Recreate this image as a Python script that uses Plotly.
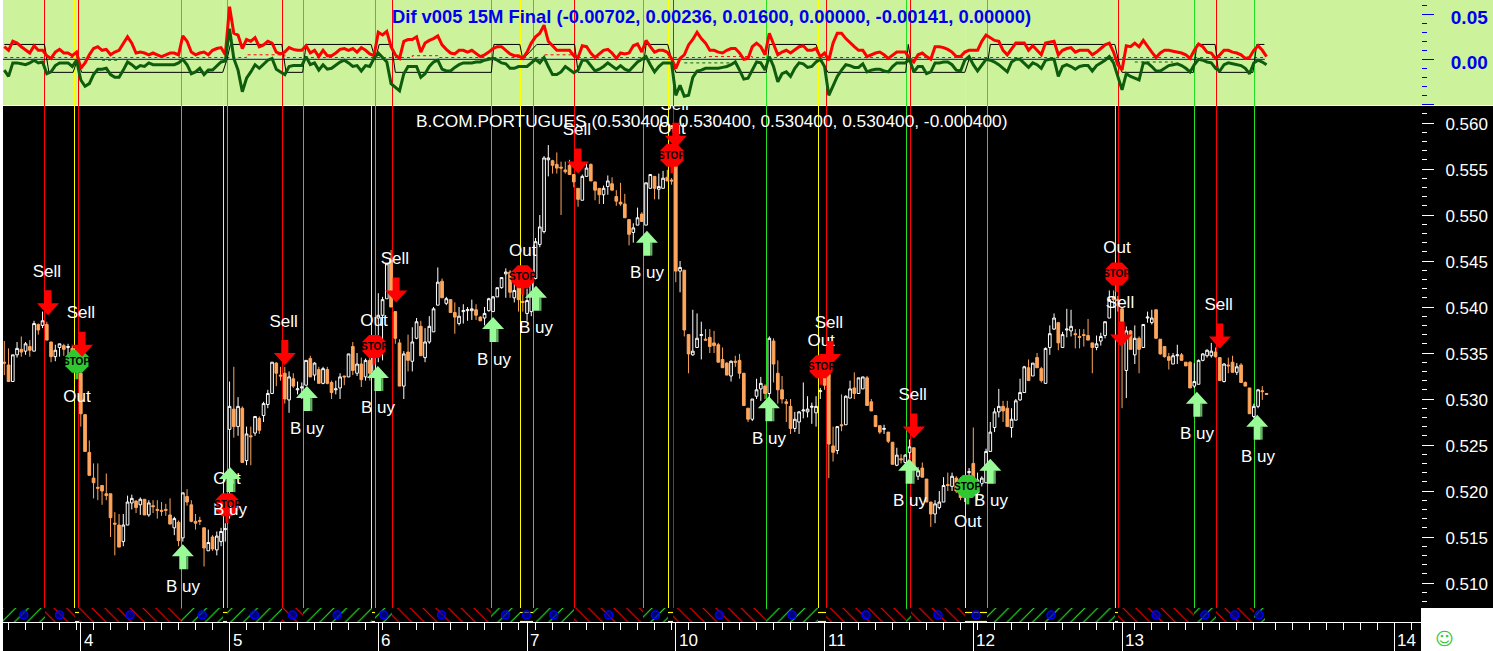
import plotly.graph_objects as go

# ---------- price bars (15 minute candles) ----------
opens = [.5340,.5337,.5319,.5348,.5354,.5352,.5357,.5352,.5381,.5380,.5381,.5362,.5346,.5356,.5358,.5356,.5355,.5350,.5328,.5283,
.5242,.5214,.5204,.5206,.5197,.5197,.5165,.5163,.5145,.5163,.5187,.5189,.5185,.5191,.5174,.5184,.5180,.5179,.5180,.5174,
.5160,.5166,.5149,.5194,.5185,.5167,.5168,.5160,.5135,.5150,.5136,.5145,.5158,.5267,.5289,.5270,.5290,.5233,.5260,.5263,
.5279,.5282,.5294,.5306,.5339,.5326,.5328,.5299,.5322,.5310,.5312,.5315,.5344,.5326,.5332,.5317,.5332,.5318,.5310,.5312,
.5325,.5324,.5357,.5328,.5338,.5324,.5342,.5330,.5388,.5391,.5409,.5451,.5395,.5361,.5314,.5351,.5341,.5366,.5379,.5345,
.5362,.5373,.5402,.5428,.5404,.5408,.5394,.5382,.5395,.5396,.5396,.5397,.5389,.5388,.5396,.5395,.5411,.5421,.5436,.5438,
.5410,.5422,.5406,.5393,.5395,.5431,.5468,.5482,.5560,.5559,.5555,.5552,.5549,.5554,.5544,.5529,.5516,.5542,.5555,.5536,
.5529,.5522,.5531,.5534,.5520,.5514,.5512,.5495,.5481,.5489,.5501,.5489,.5529,.5542,.5528,.5529,.5541,.5538,.5554,.5439,
.5440,.5370,.5348,.5356,.5369,.5365,.5367,.5361,.5359,.5343,.5339,.5325,.5341,.5342,.5328,.5290,.5278,.5303,.5311,.5314,
.5306,.5363,.5328,.5310,.5297,.5292,.5268,.5275,.5287,.5286,.5291,.5285,.5308,.5330,.5327,.5249,.5244,.5272,.5272,.5301,
.5312,.5306,.5311,.5323,.5297,.5282,.5271,.5267,.5264,.5253,.5228,.5235,.5231,.5242,.5247,.5216,.5225,.5213,.5188,.5175,
.5182,.5188,.5207,.5205,.5214,.5210,.5195,.5220,.5230,.5198,.5208,.5209,.5243,.5269,.5286,.5292,.5290,.5269,.5277,.5299,
.5307,.5334,.5325,.5345,.5333,.5317,.5356,.5376,.5383,.5356,.5375,.5374,.5371,.5368,.5370,.5369,.5361,.5356,.5363,.5369,
.5388,.5411,.5408,.5398,.5331,.5374,.5348,.5366,.5356,.5388,.5383,.5397,.5365,.5357,.5346,.5338,.5347,.5348,.5340,.5340,
.5314,.5316,.5342,.5347,.5347,.5351,.5345,.5319,.5337,.5340,.5329,.5337,.5318,.5312,.5281,.5292,.5309,.5306]
highs = [.5363,.5355,.5348,.5362,.5368,.5362,.5364,.5385,.5382,.5395,.5384,.5362,.5359,.5360,.5360,.5360,.5358,.5352,.5330,.5283,
.5255,.5230,.5230,.5206,.5219,.5197,.5177,.5175,.5175,.5195,.5196,.5190,.5193,.5191,.5190,.5190,.5190,.5188,.5186,.5192,
.5172,.5168,.5198,.5202,.5190,.5175,.5172,.5160,.5158,.5152,.5156,.5160,.5165,.5319,.5335,.5302,.5292,.5270,.5270,.5281,
.5281,.5297,.5310,.5340,.5340,.5335,.5335,.5330,.5328,.5319,.5318,.5342,.5347,.5340,.5335,.5335,.5335,.5320,.5320,.5328,
.5325,.5349,.5362,.5350,.5345,.5344,.5350,.5360,.5415,.5411,.5447,.5462,.5395,.5365,.5352,.5370,.5378,.5388,.5385,.5377,
.5390,.5400,.5443,.5431,.5411,.5408,.5405,.5400,.5403,.5400,.5408,.5403,.5390,.5400,.5410,.5412,.5421,.5432,.5442,.5440,
.5425,.5425,.5415,.5420,.5440,.5475,.5500,.5564,.5576,.5560,.5568,.5558,.5558,.5560,.5544,.5529,.5544,.5556,.5556,.5536,
.5529,.5532,.5543,.5541,.5527,.5535,.5523,.5495,.5491,.5508,.5503,.5535,.5544,.5542,.5545,.5548,.5549,.5540,.5580,.5450,
.5440,.5370,.5397,.5393,.5384,.5376,.5376,.5374,.5361,.5356,.5340,.5342,.5347,.5349,.5328,.5290,.5300,.5322,.5324,.5316,
.5368,.5366,.5342,.5325,.5300,.5300,.5286,.5287,.5318,.5303,.5296,.5303,.5312,.5335,.5330,.5270,.5270,.5305,.5304,.5320,
.5329,.5323,.5324,.5325,.5300,.5282,.5271,.5272,.5264,.5253,.5247,.5240,.5240,.5256,.5247,.5226,.5231,.5213,.5188,.5190,
.5200,.5215,.5220,.5220,.5216,.5215,.5212,.5225,.5269,.5220,.5216,.5246,.5275,.5290,.5311,.5298,.5298,.5290,.5300,.5322,
.5336,.5343,.5339,.5350,.5335,.5356,.5380,.5393,.5383,.5373,.5398,.5397,.5376,.5376,.5376,.5387,.5361,.5369,.5372,.5384,
.5418,.5418,.5412,.5400,.5379,.5375,.5380,.5368,.5381,.5395,.5397,.5397,.5365,.5357,.5350,.5350,.5359,.5350,.5340,.5341,
.5339,.5343,.5350,.5354,.5361,.5356,.5345,.5339,.5345,.5347,.5339,.5339,.5319,.5312,.5295,.5311,.5314,.5306]
lows = [.5326,.5319,.5319,.5345,.5346,.5348,.5346,.5352,.5370,.5377,.5364,.5340,.5341,.5346,.5347,.5347,.5345,.5328,.5270,.5243,
.5217,.5192,.5190,.5185,.5190,.5150,.5130,.5139,.5140,.5163,.5180,.5176,.5174,.5174,.5172,.5176,.5170,.5173,.5173,.5164,
.5152,.5140,.5145,.5184,.5166,.5158,.5163,.5118,.5135,.5135,.5130,.5140,.5145,.5170,.5258,.5260,.5231,.5228,.5228,.5260,
.5262,.5275,.5290,.5306,.5314,.5320,.5295,.5285,.5312,.5305,.5300,.5315,.5324,.5320,.5317,.5316,.5316,.5300,.5305,.5300,
.5315,.5324,.5326,.5325,.5313,.5320,.5320,.5325,.5340,.5342,.5409,.5400,.5360,.5314,.5300,.5330,.5330,.5365,.5347,.5340,
.5360,.5373,.5402,.5410,.5402,.5394,.5371,.5380,.5382,.5385,.5386,.5386,.5385,.5380,.5395,.5395,.5411,.5420,.5410,.5410,
.5405,.5395,.5395,.5385,.5390,.5430,.5465,.5480,.5542,.5545,.5545,.5500,.5545,.5544,.5530,.5509,.5516,.5542,.5537,.5516,
.5512,.5512,.5522,.5527,.5510,.5510,.5497,.5467,.5470,.5489,.5493,.5489,.5529,.5517,.5517,.5529,.5537,.5533,.5427,.5416,
.5368,.5328,.5347,.5356,.5343,.5364,.5350,.5350,.5340,.5334,.5326,.5319,.5335,.5322,.5293,.5275,.5276,.5300,.5298,.5300,
.5298,.5318,.5295,.5295,.5275,.5262,.5264,.5262,.5279,.5280,.5273,.5270,.5300,.5310,.5214,.5232,.5240,.5265,.5272,.5301,
.5300,.5306,.5311,.5293,.5287,.5270,.5262,.5262,.5252,.5229,.5227,.5230,.5229,.5235,.5215,.5212,.5215,.5188,.5161,.5165,
.5180,.5188,.5200,.5200,.5198,.5190,.5188,.5195,.5195,.5190,.5205,.5209,.5243,.5264,.5280,.5275,.5270,.5258,.5277,.5298,
.5307,.5320,.5325,.5334,.5318,.5317,.5348,.5375,.5353,.5356,.5367,.5368,.5355,.5355,.5357,.5364,.5328,.5353,.5358,.5366,
.5388,.5400,.5395,.5290,.5301,.5354,.5338,.5328,.5356,.5383,.5381,.5366,.5348,.5345,.5332,.5338,.5338,.5342,.5336,.5312,
.5312,.5316,.5341,.5345,.5345,.5345,.5320,.5318,.5328,.5329,.5326,.5318,.5314,.5284,.5279,.5290,.5299,.5305]
closes = [.5339,.5319,.5348,.5355,.5351,.5360,.5353,.5382,.5375,.5385,.5364,.5346,.5353,.5360,.5354,.5357,.5350,.5335,.5284,.5243,
.5217,.5209,.5203,.5200,.5195,.5171,.5164,.5139,.5163,.5188,.5192,.5182,.5191,.5174,.5187,.5183,.5179,.5178,.5179,.5164,
.5170,.5146,.5198,.5188,.5167,.5165,.5167,.5138,.5144,.5137,.5151,.5156,.5159,.5292,.5270,.5292,.5231,.5262,.5259,.5281,
.5266,.5295,.5306,.5340,.5328,.5325,.5300,.5324,.5314,.5311,.5313,.5342,.5324,.5339,.5317,.5333,.5317,.5307,.5311,.5324,
.5324,.5349,.5331,.5338,.5321,.5342,.5328,.5355,.5391,.5408,.5447,.5400,.5366,.5314,.5349,.5342,.5362,.5384,.5347,.5362,
.5379,.5398,.5427,.5410,.5409,.5394,.5389,.5390,.5396,.5397,.5398,.5391,.5385,.5393,.5409,.5411,.5421,.5432,.5438,.5416,
.5418,.5408,.5405,.5407,.5430,.5471,.5487,.5562,.5562,.5554,.5551,.5551,.5547,.5544,.5536,.5517,.5542,.5551,.5537,.5527,
.5522,.5529,.5537,.5527,.5515,.5512,.5497,.5479,.5486,.5497,.5493,.5535,.5544,.5529,.5531,.5540,.5537,.5537,.5439,.5443,
.5375,.5349,.5352,.5366,.5370,.5364,.5357,.5358,.5340,.5334,.5326,.5341,.5340,.5328,.5293,.5278,.5300,.5310,.5317,.5306,
.5366,.5338,.5310,.5300,.5295,.5268,.5278,.5286,.5288,.5289,.5292,.5292,.5309,.5315,.5251,.5242,.5270,.5271,.5303,.5311,
.5306,.5323,.5324,.5293,.5287,.5270,.5264,.5268,.5254,.5229,.5239,.5234,.5239,.5248,.5223,.5222,.5215,.5188,.5175,.5186,
.5188,.5206,.5206,.5216,.5200,.5193,.5205,.5221,.5210,.5212,.5214,.5243,.5264,.5286,.5292,.5287,.5270,.5278,.5298,.5307,
.5335,.5320,.5339,.5334,.5320,.5355,.5371,.5388,.5361,.5370,.5376,.5379,.5370,.5367,.5369,.5364,.5356,.5360,.5368,.5384,
.5408,.5408,.5407,.5375,.5374,.5354,.5366,.5354,.5381,.5389,.5388,.5366,.5349,.5346,.5342,.5347,.5348,.5342,.5336,.5312,
.5319,.5342,.5349,.5353,.5352,.5346,.5320,.5338,.5336,.5329,.5335,.5318,.5314,.5284,.5292,.5310,.5308,.5305]

# ---------- upper indicator panel ----------
dif_red = [.014,.010,.020,.018,.014,.010,.007,.015,.010,.010,.004,.001,.008,.011,.007,.007,.004,.008,-.010,-.004,
.005,.012,.014,.010,.011,.005,.008,.010,.018,.025,.018,.007,.008,.007,.005,.007,.005,.003,.005,.007,
.007,.005,.026,.020,.008,.005,.007,.008,.005,.010,.012,.013,.005,.0585,.029,.027,.012,.022,.020,.024,
.014,.016,.020,.018,.008,.006,.008,.013,.011,.010,.010,.015,.007,.010,.003,.010,.004,.004,.007,.011,
.012,.010,.012,.008,.013,.010,.006,.004,.030,.027,.031,.014,.005,.001,.020,.022,.022,.025,.008,.018,
.021,.023,.026,.016,.011,.007,.006,.010,.010,.008,.010,.006,.003,.005,.008,.012,.014,.014,.010,.006,
.004,.004,.001,.008,.018,.025,.029,.038,.020,.015,.010,.010,.010,.010,.004,.002,.015,.014,.007,.002,
.006,.010,.011,.007,.001,.007,.006,.007,.015,.017,.008,.021,.014,.008,.010,.010,.008,.001,-.010,.001,
.005,.016,.022,.030,.023,.018,.010,.010,.008,.007,.010,.012,.012,.007,.000,.001,.014,.018,.014,.005,
.029,.016,.005,.008,.010,.007,.011,.014,.015,.010,.010,.012,.003,.007,-.001,.018,.029,.029,.023,.018,
.014,.010,.010,.003,.005,.007,.008,.005,.001,.005,.008,.008,.008,.001,-.003,.005,.007,.003,.000,.014,
.014,.013,.011,.008,.003,.003,.008,.010,.010,.010,.020,.027,.024,.021,.020,.010,.005,.012,.018,.018,
.018,.010,.015,.010,.005,.018,.019,.020,.005,.010,.012,.013,.008,.010,.010,.010,.005,.008,.012,.016,
.018,.008,-.006,-.012,.015,.014,.018,.014,.021,.014,.008,.002,.007,.010,.010,.009,.008,.007,.005,.001,
.010,.017,.014,.008,.007,.001,.005,.010,.010,.008,.007,.005,.001,.002,.010,.015,.010,.003]
dif_green = [-.012,-.019,-.004,-.004,-.005,-.006,-.004,-.001,-.004,-.003,-.016,-.014,-.007,-.004,-.004,-.004,-.008,-.001,-.023,-.030,
-.027,-.017,-.011,-.011,-.010,-.017,-.020,-.020,-.012,-.003,-.006,-.010,-.007,-.008,-.004,-.006,-.006,-.006,-.006,-.006,
-.006,-.004,.000,-.006,-.016,-.014,-.010,-.017,-.012,-.012,-.008,-.003,-.002,.034,.001,-.012,-.036,-.021,-.014,-.006,
-.010,-.006,-.001,.001,-.011,-.014,-.017,-.008,-.007,-.007,-.007,.003,-.006,-.004,-.012,-.006,-.011,-.010,-.006,-.003,
-.001,-.004,-.008,-.007,-.013,-.007,-.008,.001,.007,.002,-.003,-.027,-.031,-.035,-.016,-.008,-.008,-.008,-.020,-.016,
-.008,-.003,-.001,-.011,-.013,-.013,-.009,-.006,-.004,-.004,-.004,-.003,-.003,-.001,.000,.001,-.001,-.004,-.005,-.010,
-.010,-.008,-.008,-.008,-.004,.000,-.004,.002,-.008,-.017,-.017,-.014,-.008,-.012,-.015,-.012,-.001,-.001,-.007,-.013,
-.011,-.008,-.004,-.008,-.011,-.007,-.011,-.013,-.008,-.003,.000,.003,-.006,-.014,-.008,-.004,-.004,-.004,-.040,-.029,
-.041,-.040,-.020,-.013,-.012,-.010,-.010,-.010,-.010,-.009,-.008,-.006,-.003,-.012,-.022,-.021,-.012,-.003,-.004,-.012,
.003,-.008,-.025,-.016,-.014,-.019,-.010,-.004,-.005,-.009,-.008,-.003,.000,-.008,-.040,-.030,-.019,-.012,-.006,-.007,
-.009,-.009,-.005,-.014,-.012,-.011,-.011,-.013,-.014,-.008,-.004,-.004,-.004,.000,-.014,-.008,-.008,-.016,-.014,-.004,
-.004,-.003,-.003,-.006,-.012,-.013,-.001,.003,-.006,-.013,-.006,.000,-.001,-.003,-.006,-.010,-.014,-.003,.000,.000,
-.004,-.009,-.004,-.006,-.010,-.001,.000,.000,-.019,-.008,-.006,-.008,-.011,-.008,-.007,-.007,-.013,-.007,-.004,-.001,
.003,-.004,-.019,-.034,-.016,-.019,-.021,-.023,-.004,-.004,-.008,-.013,-.013,-.010,-.007,-.006,-.005,-.007,-.010,-.014,
-.006,.000,-.001,-.003,-.004,-.010,-.013,-.006,-.004,-.005,-.006,-.007,-.010,-.016,-.004,-.001,-.003,-.006]

band_bars = [0,9.46,10.5,16.2,17.2,18.2,51.4,52.4,53.2,65.3,66.3,70.2,71,86.3,87.3,88.2,91.1,92,114.6,115.2,121.3,122,125.3,134.2,135,
150.2,151,156.1,157,158,179.3,180,191,192.2,193.8,212.1,212.7,213.2,213.8,226,227,231.5,232,261.3,262.1,263,279.8,280.6,284.9,285.7,293.8,294.7,296.5]
band_vals = [.0165,.0165,-.0145,-.0145,0,-.0145,-.0145,0,.0165,.0165,-.0145,-.0145,.0165,.0165,0,.0165,.0165,-.0145,-.0145,.0165,.0165,0,.0165,.0165,-.0145,
-.0145,.0165,.0165,0,-.0145,-.0145,.0165,.0165,0,-.0145,-.0145,.0165,0,-.0145,-.0145,0,0,.0165,.0165,0,-.0145,-.0145,.0165,.0165,-.0145,-.0145,.0165,.0165]

zero_bars = [-.3,296.6]
zero_vals = [0,0]
dash_red_bars = [0,57,57,66,66,96,96,102,102,127,127,134,134,165,165,176,176,296.6]
dash_red_vals = [.002,.002,.005,.005,.002,.002,.004,.004,.002,.002,.005,.005,.002,.002,.003,.003,.002,.002]
dash_green_bars = [23,27,None,160,172,None,266,275]
dash_green_vals = [-.001,-.001,None,-.004,-.004,None,-.003,-.003]

# ---------- signal lines and regime strip (positions in bars) ----------
red_lines = [9.459,17.459,65.459,91.341,134.165,157.459,193.459,213.224,262.165,285.224]
green_lines = [41.694,52.518,70.4,87.341,114.635,124.518,150.4,179.341,212.282,231.341,280.047,294.165]
yellow_lines = [16.518,51.576,86.4,121.459,156.282,191.576,226.165,261.447]

regime_edges = [-.3,9.46,16.52,17.46,41.69,51.46,52.4,65.34,70.28,86.4,87.34,91.22,114.52,121.34,124.4,134.16,150.28,156.16,157.34,
179.22,191.46,193.34,212.16,213.34,226.05,231.22,261.34,262.05,279.93,285.05,293.93,296.6]
regime_kind = ["g","r","y","r","g","y","g","r","g","y","g","r","g","y","g","r","g","y","r",
"g","y","r","g","r","y","g","y","r","g","r","g"]

# ---------- trade signals ----------
sell_bars = [10.3,18.3,66.0,92.2,135,158,194.3,214,262.8,286]
sell_tips = [.5391,.5346,.5337,.5405,.5545,.5573,.5336,.5257,.5357,.5355]
buy_bars = [42,53.1,71.2,87.9,115,125.1,151.2,179.9,212.9,232,280.6,294.8]
buy_tips = [.5142,.5226,.5314,.5336,.5389,.5423,.5483,.5303,.5235,.5235,.5308,.5283]
stop_bars = [17.1,52.4,87,122,157.1,192.2,226.7,261.8]
stop_prices = [.5341,.5185,.5357,.5433,.5565,.5335,.5205,.5436]
stop_kind = ["g","r","r","r","r","r","g","r"]

# ---------- axes ----------
day_bars = [18,53,88,123,158,193,228,263,327]
day_labels = ["4","5","6","7","10","11","12","13","14"]
minor_bars = [b for b in range(-3, 334) if (b-18-3) % 4 == 0 and b < 263] + [266,270,274,278,282,286,290,294,299,303,307,311,315,319,323,327,331]

W, H = 1493, 651
PER_PX = 1/9200
BAR_PX = 4.25
main_rng = [.56-(608-123)/9200, .56+17/9200]
up_rng = [-45.7/900, 59.3/900]
bar_rng = [(3-4.3)/BAR_PX, (1421-4.3)/BAR_PX]

BLACK, WHITE = "#000000", "#ffffff"
RED, GREEN, YELLOW = "#ff0000", "#22e022", "#ffff00"
PANEL = "#ccf39b"
ORANGE = "#ffa65c"
BLUE = "#0000f0"
FAM = "Liberation Sans, Arial, sans-serif"

fig = go.Figure()

# regime strip
xs, ws, shapes_, fgs = [], [], [], []
kinds = {"g": ("/", "#22e822"), "r": ("\\", "#ff0000"), "y": ("-", "#ffff00")}
for a, b, k in zip(regime_edges[:-1], regime_edges[1:], regime_kind):
    xs.append((a+b)/2); ws.append(b-a); shapes_.append(kinds[k][0]); fgs.append(kinds[k][1])
fig.add_trace(go.Bar(x=xs, y=[1]*len(xs), width=ws, yaxis="y3", hoverinfo="skip",
    marker=dict(color=BLACK, line=dict(width=0),
                pattern=dict(shape=shapes_, fgcolor=fgs, bgcolor=BLACK, size=9, solidity=.13, fillmode="replace"))))
dots = [x for x, w in zip(xs, ws) if w >= 2.5]
fig.add_trace(go.Scatter(x=dots, y=[.5]*len(dots), yaxis="y3", mode="markers", hoverinfo="skip", cliponaxis=False,
    marker=dict(size=8, color="rgba(0,0,170,.7)", line=dict(color="#0000ff", width=1.5))))

# candles
fig.add_trace(go.Candlestick(x=list(range(len(opens))), open=opens, high=highs, low=lows, close=closes,
    yaxis="y", hoverinfo="skip", whiskerwidth=0,
    increasing=dict(line=dict(color=WHITE, width=1), fillcolor=BLACK),
    decreasing=dict(line=dict(color=ORANGE, width=1), fillcolor=ORANGE)))

# upper panel
fig.add_trace(go.Scatter(x=zero_bars, y=zero_vals, yaxis="y2", mode="lines", line=dict(color="#0000c8", width=1), hoverinfo="skip"))
fig.add_trace(go.Scatter(x=dash_red_bars, y=dash_red_vals, yaxis="y2", mode="lines", line=dict(color=RED, width=1, dash="3px,3px"), hoverinfo="skip"))
fig.add_trace(go.Scatter(x=dash_green_bars, y=dash_green_vals, yaxis="y2", mode="lines", line=dict(color="#0e5c0e", width=1, dash="3px,3px"), hoverinfo="skip"))
fig.add_trace(go.Scatter(x=band_bars, y=band_vals, yaxis="y2", mode="lines", line=dict(color=BLACK, width=1), hoverinfo="skip"))
fig.add_trace(go.Scatter(x=list(range(len(dif_red))), y=dif_red, yaxis="y2", mode="lines", line=dict(color=RED, width=3), hoverinfo="skip"))
fig.add_trace(go.Scatter(x=list(range(len(dif_green))), y=dif_green, yaxis="y2", mode="lines", line=dict(color="#0e5c0e", width=3), hoverinfo="skip"))

# Sell / Out text below arrows and stop signs, clipped by the panel
txt_x = [b - 1.2/BAR_PX for b in sell_bars] + list(stop_bars)
txt_y = [p + 42.5*PER_PX for p in sell_tips] + [p + (25 if k == "r" else -36)*PER_PX for p, k in zip(stop_prices, stop_kind)]
txt_s = ["Sell"]*len(sell_bars) + ["Out"]*len(stop_bars)
fig.add_trace(go.Scatter(x=txt_x, y=txt_y, text=txt_s, mode="text", yaxis="y", textposition="middle center", cliponaxis=True,
    textfont=dict(family=FAM, size=17, color=WHITE), hoverinfo="skip"))

shapes = []
# page background pieces
shapes.append(dict(type="rect", xref="paper", yref="paper", x0=3/W, x1=1, y0=1-105/H, y1=1, fillcolor=PANEL, line_width=0, layer="below"))
shapes.append(dict(type="rect", xref="paper", yref="paper", x0=0, x1=3/W, y0=0, y1=1, fillcolor=WHITE, line_width=0, layer="below"))
shapes.append(dict(type="rect", xref="paper", yref="paper", x0=1421/W, x1=1, y0=0, y1=1-608/H, fillcolor=WHITE, line_width=0, layer="below"))
shapes.append(dict(type="line", xref="paper", yref="paper", x0=3/W, x1=1, y0=1-105.5/H, y1=1-105.5/H, line=dict(color=WHITE, width=1), layer="below"))
# signal lines
for vals, col in ((green_lines, GREEN), (yellow_lines, YELLOW), (red_lines, RED)):
    for b in vals:
        shapes.append(dict(type="line", xref="x", yref="paper", x0=b, x1=b, y0=1-608/H, y1=1, line=dict(color=col, width=1), layer="below"))

def anchored(bar, price, path, color):
    return dict(type="path", xref="x", yref="y", xsizemode="pixel", ysizemode="pixel", xanchor=bar, yanchor=price,
                path=path, fillcolor=color, line_width=0, layer="above")

OCT = "M -5 11.5 L 5 11.5 L 11.5 5 L 11.5 -5 L 5 -11.5 L -5 -11.5 L -11.5 -5 L -11.5 5 Z"
STEM = "M -1.5 0 L 1.5 0 L 1.5 -18 L -1.5 -18 Z"
for b, p, k in zip(stop_bars, stop_prices, stop_kind):
    c = RED if k == "r" else "#30c830"
    shapes.append(anchored(b, p, STEM, c))
    shapes.append(anchored(b, p, OCT, c))
SELL = "M 0 0 L -11 12 L -3.5 12 L -3.5 25 L 3.5 25 L 3.5 12 L 11 12 Z"
BUY = "M 0 0 L -11 -12 L -3.5 -12 L -3.5 -25 L 3.5 -25 L 3.5 -12 L 11 -12 Z"
BUY_SH = "M 3.5 -12 L 5.5 -12 L 5.5 -25 L 3.5 -25 Z"
for b, p in zip(sell_bars, sell_tips):
    shapes.append(anchored(b, p, SELL, RED))
for b, p in zip(buy_bars, buy_tips):
    shapes.append(anchored(b, p, BUY_SH, "#60b060"))
    shapes.append(anchored(b, p, BUY, "#98fb98"))

ann = []
ann.append(dict(text="<b>Dif v005 15M Final (-0.00702, 0.00236, 0.01600, 0.00000, -0.00141, 0.00000)</b>",
    xref="paper", yref="paper", x=711.5/W, y=1-16/H, showarrow=False, font=dict(family=FAM, size=18.4, color=BLUE), yanchor="middle"))
ann.append(dict(text="B.COM.PORTUGUES (0.530400, 0.530400, 0.530400, 0.530400, -0.000400)",
    xref="paper", yref="paper", x=711/W, y=1-121/H, showarrow=False, font=dict(family=FAM, size=17.3, color=WHITE), yanchor="middle"))
for b, p in zip(buy_bars, buy_tips):
    ann.append(dict(text="B uy", xref="x", yref="y", x=b, y=p-42*PER_PX, xshift=1, showarrow=False, yanchor="middle",
                    font=dict(family=FAM, size=17, color=WHITE)))
for b, p in zip(stop_bars, stop_prices):
    ann.append(dict(text="<b>STOP</b>", xref="x", yref="y", x=b, y=p, showarrow=False, yanchor="middle",
                    font=dict(family="Liberation Sans Narrow, Liberation Sans", size=10, color=BLACK)))
for b, s in zip(day_bars, day_labels):
    ann.append(dict(text=s, xref="x", yref="paper", x=b, y=1-640/H, xanchor="left", yanchor="middle", xshift=1, showarrow=False,
                    font=dict(family=FAM, size=17, color=WHITE)))
ann.append(dict(text="☺", xref="paper", yref="paper", x=1456/W, y=1-638/H, showarrow=False, yanchor="middle",
                font=dict(family="DejaVu Sans", size=18, color="#30c830")))

fig.update_layout(
    width=W, height=H, autosize=False, margin=dict(l=0, r=0, t=0, b=0),
    paper_bgcolor=BLACK, plot_bgcolor="rgba(0,0,0,0)", showlegend=False, boxgap=.1, bargap=0,
    shapes=shapes, annotations=ann,
    xaxis=dict(domain=[3/W, 1421/W], range=bar_rng, anchor="y3", rangeslider=dict(visible=False),
               showgrid=False, zeroline=False, showticklabels=False, showline=True, linecolor=WHITE, linewidth=1,
               tickmode="array", tickvals=day_bars, ticks="outside", ticklen=29, tickcolor=WHITE, tickwidth=1,
               minor=dict(tickmode="array", tickvals=minor_bars, ticks="outside", ticklen=7, tickcolor=WHITE, tickwidth=1, showgrid=False)),
    yaxis=dict(domain=[1-608/H, 1-106/H], range=main_rng, anchor="x", side="right", showgrid=False, zeroline=False,
               tick0=.51, dtick=.005, tickformat=".3f", ticks="outside", ticklen=12, tickcolor=WHITE, tickwidth=1, ticklabelstandoff=8,
               ticklabelshift=1, tickfont=dict(family=FAM, size=17, color=WHITE),
               minor=dict(tick0=.51, dtick=.001, ticks="outside", ticklen=5, tickcolor=WHITE, tickwidth=1, showgrid=False)),
    yaxis2=dict(domain=[1-105/H, 1], range=up_rng, anchor="x", side="right", showgrid=False, zeroline=False,
                tickmode="array", tickvals=[-.05, 0, .05], ticktext=["", "0.00", "0.05"], ticks="outside", ticklen=12,
                tickcolor=BLUE, tickwidth=1, ticklabelstandoff=13, ticklabelshift=3,
                tickfont=dict(family=FAM, size=19, color=BLUE, weight=700),
                minor=dict(tickmode="array", tickvals=[.06,.04,.03,.02,.01,-.01,-.02,-.03,-.04], ticks="outside", ticklen=5,
                           tickcolor=BLUE, tickwidth=1, showgrid=False)),
    yaxis3=dict(domain=[1-622/H, 1-608/H], range=[0, 1], anchor="x", visible=False),
)

fig.write_html("out.html", config={"displayModeBar": False},
               post_script="document.body.style.margin='0';document.documentElement.style.overflow='hidden';")
